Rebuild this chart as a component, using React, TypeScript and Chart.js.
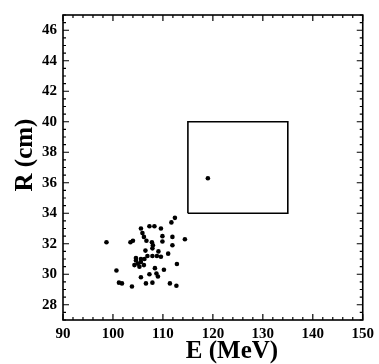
import React, { useEffect, useRef } from "react";
import { Chart, registerables } from "chart.js";

Chart.register(...registerables);

const eventE = [
  98.7, 100.7, 101.2, 101.8, 103.8, 103.5, 104.0, 104.6, 104.3, 104.6,
  105.0, 105.3, 105.6, 105.6, 106.2, 105.6, 105.6, 105.9, 106.2, 106.6,
  106.7, 106.5, 106.9, 107.3, 107.3, 107.8, 107.9, 107.9, 107.9, 108.3,
  108.4, 108.7, 108.8, 109.0, 109.1, 109.6, 109.6, 109.9, 109.9, 110.2,
  111.05, 111.4, 111.7, 111.9, 111.9, 112.4, 112.7, 112.8, 114.4, 119.0,
  108.0, 106.3,
];
const eventR = [
  32.1, 30.25, 29.45, 29.4, 29.2, 32.1, 32.2, 31.07, 30.6, 30.9,
  30.7, 30.5, 31.0, 30.8, 30.6, 29.8, 33.0, 32.7, 32.45, 29.4,
  32.2, 31.55, 31.2, 33.15, 30.0, 32.1, 31.7, 31.2, 29.45, 33.15,
  30.4, 30.05, 31.2, 29.85, 31.5, 33.0, 31.15, 32.5, 32.15, 30.3,
  31.35, 29.4, 33.4, 32.45, 31.9, 33.7, 29.25, 30.67, 32.3, 36.3,
  31.9, 31.0,
];

const boxE = [115, 115, 135, 135, 115];
const boxR = [34, 40, 40, 34, 34];

const xTickLabels = [90, 100, 110, 120, 130, 140, 150];
const yTickLabels = [28, 30, 32, 34, 36, 38, 40, 42, 44, 46];

const xMin = 90, xMax = 150, yMin = 27, yMax = 47;
const xTitle = "E (MeV)";
const yTitle = "R (cm)";

const FONT = '"Liberation Serif", "DejaVu Serif", serif';

const framePlugin = {
  id: "frameTicks",
  afterDraw(chart: any) {
    const { ctx, chartArea: a, scales } = chart;
    const xs = scales.x, ys = scales.y;
    ctx.save();
    ctx.strokeStyle = "#000";
    ctx.lineWidth = 1.6;
    ctx.strokeRect(a.left, a.top, a.right - a.left, a.bottom - a.top);
    ctx.lineWidth = 1.2;
    ctx.beginPath();
    for (let v = xMin; v <= xMax + 1e-6; v += 2) {
      const major = Math.abs(v % 10) < 1e-6;
      const len = major ? 6 : 3;
      const px = xs.getPixelForValue(v);
      ctx.moveTo(px, a.bottom); ctx.lineTo(px, a.bottom - len);
      ctx.moveTo(px, a.top); ctx.lineTo(px, a.top + len);
    }
    for (let v = yMin; v <= yMax + 1e-6; v += 0.5) {
      const major = Math.abs(v % 2) < 1e-6;
      const len = major ? 6 : 3;
      const py = ys.getPixelForValue(v);
      ctx.moveTo(a.left, py); ctx.lineTo(a.left + len, py);
      ctx.moveTo(a.right, py); ctx.lineTo(a.right - len, py);
    }
    ctx.stroke();

    ctx.fillStyle = "#000";
    ctx.font = "bold 25px " + FONT;
    ctx.textAlign = "center";
    ctx.textBaseline = "alphabetic";
    ctx.fillText(xTitle, 232, 358);
    ctx.translate(32, 155);
    ctx.rotate(-Math.PI / 2);
    ctx.fillText(yTitle, 0, 0);
    ctx.restore();
  },
};

export default function App() {
  const ref = useRef<HTMLCanvasElement>(null);
  useEffect(() => {
    if (!ref.current) return;
    const points = eventE.map((e, i) => ({ x: e, y: eventR[i] }));
    const box = boxE.map((e, i) => ({ x: e, y: boxR[i] }));
    const chart = new Chart(ref.current, {
      type: "scatter",
      data: {
        datasets: [
          {
            data: points,
            pointRadius: 2.3,
            pointBackgroundColor: "#000",
            pointBorderColor: "#000",
            pointBorderWidth: 0,
            showLine: false,
          },
          {
            data: box,
            showLine: true,
            borderColor: "#000",
            borderWidth: 1.6,
            pointRadius: 0,
            fill: false,
          },
        ],
      },
      options: {
        animation: false,
        responsive: false,
        maintainAspectRatio: false,
        layout: { padding: { top: 14, right: 11, left: 0, bottom: 0 } },
        plugins: { legend: { display: false }, tooltip: { enabled: false } },
        scales: {
          x: {
            type: "linear",
            min: xMin,
            max: xMax,
            grid: { display: false, drawTicks: false },
            border: { display: false },
            afterFit: (s: any) => { s.height = 44; },
            afterBuildTicks: (s: any) => { s.ticks = xTickLabels.map((v) => ({ value: v })); },
            ticks: {
              color: "#000",
              padding: 5,
              maxRotation: 0,
              autoSkip: false,
              font: { family: FONT, size: 15, weight: "bold" },
            },
          },
          y: {
            type: "linear",
            min: yMin,
            max: yMax,
            grid: { display: false, drawTicks: false },
            border: { display: false },
            afterFit: (s: any) => { s.width = 63; },
            afterBuildTicks: (s: any) => { s.ticks = yTickLabels.map((v) => ({ value: v })); },
            ticks: {
              color: "#000",
              padding: 6,
              autoSkip: false,
              font: { family: FONT, size: 15, weight: "bold" },
            },
          },
        },
      },
      plugins: [framePlugin],
    });
    return () => chart.destroy();
  }, []);
  return (
    <div style={{ position: "fixed", left: 0, top: 0, width: 379, height: 364, background: "#fff" }}>
      <canvas ref={ref} width={379} height={364} style={{ width: 379, height: 364 }} />
    </div>
  );
}
